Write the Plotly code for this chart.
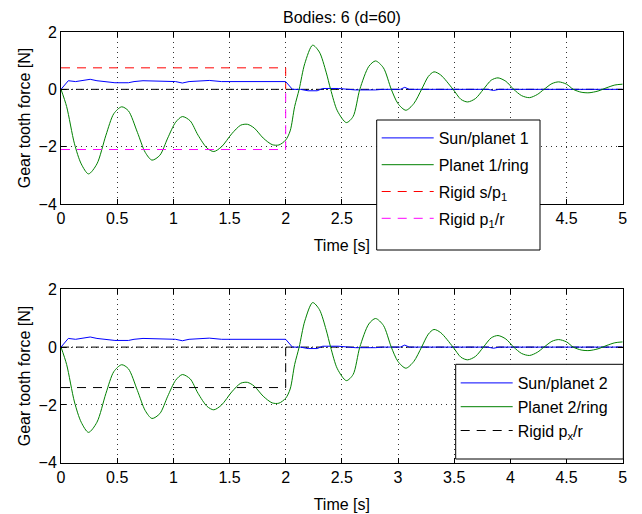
import plotly.graph_objects as go

# ---------------- data ----------------
t_ring = [0, 0.05, 0.12, 0.18, 0.245, 0.32, 0.40, 0.47, 0.54, 0.60, 0.68, 0.75, 0.81, 0.88,
          0.95, 1.02, 1.08, 1.15, 1.22, 1.30, 1.36, 1.43, 1.52, 1.60, 1.66, 1.72, 1.80, 1.88,
          1.94, 2.00, 2.04, 2.08, 2.12, 2.17, 2.24, 2.30, 2.36, 2.40, 2.46, 2.54, 2.60, 2.66,
          2.74, 2.80, 2.87, 2.94, 3.00, 3.07, 3.14, 3.21, 3.27, 3.32, 3.38, 3.49, 3.56, 3.62,
          3.69, 3.76, 3.83, 3.89, 3.96, 4.03, 4.10, 4.17, 4.24, 4.30, 4.37, 4.43, 4.50, 4.56,
          4.63, 4.70, 4.78, 4.86, 4.93, 5.00]
planet1_ring = [0, -0.6, -1.9, -2.6, -2.95, -2.6, -1.6, -0.85, -0.61, -0.75, -1.5, -2.2, -2.47, -2.3,
                -1.7, -1.15, -0.95, -1.1, -1.6, -2.05, -2.17, -2.0, -1.55, -1.25, -1.22, -1.35, -1.7, -1.93,
                -1.94, -1.77, -1.45, -0.6, 0.0, 0.9, 1.54, 1.3, 0.6, 0.0, -0.75, -1.16, -0.95, 0.0,
                0.8, 0.99, 0.75, 0.0, -0.5, -0.73, -0.5, 0.0, 0.45, 0.61, 0.5, 0.0, -0.35, -0.44,
                -0.32, 0.0, 0.32, 0.40, 0.28, 0.0, -0.22, -0.29, -0.18, 0.0, 0.2, 0.26, 0.18, 0.0,
                -0.1, -0.12, -0.06, 0.06, 0.15, 0.18]
planet2_ring = list(planet1_ring)

t_sun = [0, 0.065, 0.13, 0.20, 0.26, 0.32, 0.38, 0.48, 0.60, 0.65, 0.73, 0.90, 1.02, 1.08,
         1.14, 1.32, 1.43, 2.00, 2.06, 2.13, 2.20, 2.28, 2.33, 2.47, 2.55, 2.62, 2.80, 2.86,
         3.02, 3.06, 3.10, 3.50, 3.80, 3.85, 3.90, 5.00]
sun_planet1 = [0, 0.30, 0.27, 0.30, 0.35, 0.30, 0.27, 0.23, 0.23, 0.27, 0.30, 0.28, 0.27, 0.22,
               0.27, 0.31, 0.27, 0.27, 0.0, 0.0, -0.05, -0.05, 0.03, 0.03, 0.0, -0.02, -0.02, 0.0,
               0.0, 0.07, 0.0, 0.0, 0.0, -0.04, 0.0, 0.0]
sun_planet2 = list(sun_planet1)

t_rigid = [0, 2, 2]
rigid_s_p1 = [0.75, 0.75, 0.0]
rigid_p1_r = [-2.1, -2.1, 0.0]
rigid_px_r = [-1.4, -1.4, 0.0]
t_zero = [0, 5]
zero_line = [0, 0]

x_ticks = [0, 0.5, 1, 1.5, 2, 2.5, 3, 3.5, 4, 4.5, 5]
# top axis: labels 3, 3.5 and 4 are hidden behind the legend box
x_ticklabels_top = ["0", "0.5", "1", "1.5", "2", "2.5", "", "", "", "4.5", "5"]
x_ticklabels_bottom = ["0", "0.5", "1", "1.5", "2", "2.5", "3", "3.5", "4", "4.5", "5"]
y_ticks = [-4, -2, 0, 2]
y_ticklabels = ["\u22124", "\u22122", "0", "2"]

BLUE = "#0000ff"
GREEN = "#008000"
RED = "#ff0000"
MAGENTA = "#ff00ff"
FONT = "Liberation Sans, Arial, Helvetica, sans-serif"
FS = 16

fig = go.Figure()

# top subplot
fig.add_trace(go.Scatter(x=t_zero, y=zero_line, mode="lines", showlegend=False,
                         line=dict(color="black", width=1, dash="8px,3px,1px,3px"),
                         xaxis="x", yaxis="y"))
fig.add_trace(go.Scatter(x=t_sun, y=sun_planet1, mode="lines", name="Sun/planet 1",
                         line=dict(color=BLUE, width=1), xaxis="x", yaxis="y",
                         legend="legend", legendgroup="a"))
fig.add_trace(go.Scatter(x=t_ring, y=planet1_ring, mode="lines", name="Planet 1/ring",
                         line=dict(color=GREEN, width=1, shape="spline", smoothing=0.8),
                         xaxis="x", yaxis="y", legend="legend", legendgroup="b"))
fig.add_trace(go.Scatter(x=t_rigid, y=rigid_s_p1, mode="lines", name="Rigid s/p<sub>1</sub>",
                         line=dict(color=RED, width=1, dash="9px,7px"),
                         xaxis="x", yaxis="y", legend="legend", legendgroup="c"))
fig.add_trace(go.Scatter(x=t_rigid, y=rigid_p1_r, mode="lines", name="Rigid p<sub>1</sub>/r",
                         line=dict(color=MAGENTA, width=1, dash="9px,7px"),
                         xaxis="x", yaxis="y", legend="legend", legendgroup="d"))

# bottom subplot
fig.add_trace(go.Scatter(x=t_zero, y=zero_line, mode="lines", showlegend=False,
                         line=dict(color="black", width=1, dash="8px,3px,1px,3px"),
                         xaxis="x2", yaxis="y2"))
fig.add_trace(go.Scatter(x=t_sun, y=sun_planet2, mode="lines", name="Sun/planet 2",
                         line=dict(color=BLUE, width=1), xaxis="x2", yaxis="y2",
                         legend="legend2", legendgroup="e"))
fig.add_trace(go.Scatter(x=t_ring, y=planet2_ring, mode="lines", name="Planet 2/ring",
                         line=dict(color=GREEN, width=1, shape="spline", smoothing=0.8),
                         xaxis="x2", yaxis="y2", legend="legend2", legendgroup="f"))
fig.add_trace(go.Scatter(x=t_rigid, y=rigid_px_r, mode="lines", name="Rigid p<sub>x</sub>/r",
                         line=dict(color="black", width=1, dash="9px,7px"),
                         xaxis="x2", yaxis="y2", legend="legend2", legendgroup="g"))

# page body has an 8px margin: lay out in window pixels minus that offset
OFF = 8
W, H = 642 - OFF, 514 - OFF


def px_x(p):
    return (p - OFF) / W


def px_y(p):
    return 1 - (p - OFF) / H


def xax(domain, anchor, labels):
    return dict(domain=domain, anchor=anchor, range=[0, 5], tickvals=x_ticks,
                ticktext=labels, ticks="inside", ticklen=5, tickcolor="black",
                showline=True, linecolor="black", linewidth=1, mirror="ticks",
                showgrid=True, gridcolor="#333333", griddash="1px,4px", gridwidth=1,
                zeroline=False, automargin=False, tickfont=dict(size=FS, color="black"),
                title=dict(text="Time [s]", font=dict(size=FS, color="black"), standoff=13))


def yax(domain, anchor):
    return dict(domain=domain, anchor=anchor, range=[-4, 2], tickvals=y_ticks,
                ticktext=y_ticklabels, ticks="inside", ticklen=5, tickcolor="black",
                showline=True, linecolor="black", linewidth=1, mirror="ticks",
                showgrid=True, gridcolor="#333333", griddash="1px,4px", gridwidth=1,
                zeroline=False, automargin=False, tickfont=dict(size=FS, color="black"),
                title=dict(text="Gear tooth force [N]", font=dict(size=FS, color="black"),
                           standoff=3))


def box(x0, y0, x1, y1):
    return dict(type="rect", xref="paper", yref="paper", layer="above",
                x0=px_x(x0), x1=px_x(x1), y0=px_y(y1), y1=px_y(y0),
                fillcolor="white", line=dict(color="black", width=1))


xd = [px_x(61), px_x(622.7)]
fig.update_layout(
    width=W, height=H,
    margin=dict(l=0, r=0, t=0, b=0, autoexpand=False),
    paper_bgcolor="white", plot_bgcolor="white",
    font=dict(family=FONT, size=FS, color="black"),
    xaxis=xax(xd, "y", x_ticklabels_top),
    yaxis=yax([px_y(204), px_y(32)], "x"),
    xaxis2=xax(xd, "y2", x_ticklabels_bottom),
    yaxis2=yax([px_y(462.7), px_y(289.3)], "x2"),
    shapes=[box(376.7, 120, 540, 250), box(455.7, 364.3, 623.3, 459)],
    legend=dict(x=px_x(376.7), y=px_y(121), xanchor="left", yanchor="top",
                bgcolor="rgba(0,0,0,0)", borderwidth=0,
                font=dict(size=FS, color="black"), itemwidth=52, tracegroupgap=3,
                traceorder="grouped"),
    legend2=dict(x=px_x(455.7), y=px_y(366), xanchor="left", yanchor="top",
                 bgcolor="rgba(0,0,0,0)", borderwidth=0,
                 font=dict(size=FS, color="black"), itemwidth=52, tracegroupgap=10,
                 traceorder="normal"),
    annotations=[dict(text="Bodies: 6 (d=60)", x=0.5 * (xd[0] + xd[1]), y=px_y(17),
                      xref="paper", yref="paper", showarrow=False,
                      font=dict(size=FS, color="black"), xanchor="center", yanchor="middle")],
)

fig.write_html("out.html")
